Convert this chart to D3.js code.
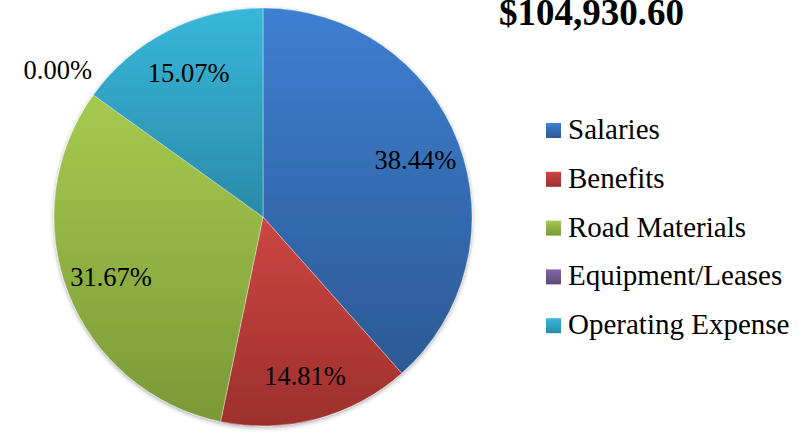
<!DOCTYPE html>
<html>
<head>
<meta charset="utf-8">
<script src="https://cdn.jsdelivr.net/npm/d3@7"></script>
<style>
  html, body { margin: 0; padding: 0; background: #fff; }
  svg { display: block; }
  svg text { font-family: "Liberation Serif", "Times New Roman", serif; }
</style>
</head>
<body>
<div id="chart"></div>
<script>
// chart data
const categories = ["Salaries", "Benefits", "Road Materials", "Equipment/Leases", "Operating Expense"];
const shares = [38.44, 14.81, 31.67, 0.00, 15.07];
const totalLabel = "$104,930.60";
const colorsTop = ["#3e7fd1", "#cc4642", "#a6ca4f", "#8467a8", "#38b7db"];
const colorsBottom = ["#2c5995", "#9d2f2c", "#7a9937", "#5c4878", "#2a8aa6"];

const width = 809, height = 433;
const cx = 263, cy = 217, radius = 209;

const svg = d3.select("#chart").append("svg")
    .attr("width", width)
    .attr("height", height);

const defs = svg.append("defs");

// soft shadow round the pie
const shadow = defs.append("filter")
    .attr("id", "shadow")
    .attr("x", "-10%").attr("y", "-10%")
    .attr("width", "120%").attr("height", "120%");
shadow.append("feDropShadow")
    .attr("dx", 0).attr("dy", 1.5)
    .attr("stdDeviation", 2.2)
    .attr("flood-color", "#000")
    .attr("flood-opacity", 0.35);

// vertical gradient for each slice
categories.forEach((c, i) => {
    const g = defs.append("linearGradient")
        .attr("id", "grad" + i)
        .attr("x1", 0).attr("y1", 0)
        .attr("x2", 0).attr("y2", 1);
    g.append("stop").attr("offset", "0%").attr("stop-color", colorsTop[i]);
    g.append("stop").attr("offset", "100%").attr("stop-color", colorsBottom[i]);
});

const pie = d3.pie().sort(null).value(d => d);
const arcs = pie(shares);

const arc = d3.arc().innerRadius(0).outerRadius(radius);
const labelArc = d3.arc().innerRadius(radius * 0.78).outerRadius(radius * 0.78);
const outerLabelArc = d3.arc().innerRadius(radius * 1.21).outerRadius(radius * 1.21);

const pieG = svg.append("g")
    .attr("transform", `translate(${cx},${cy})`);

pieG.append("g")
    .attr("filter", "url(#shadow)")
    .selectAll("path")
    .data(arcs)
    .enter()
    .append("path")
    .attr("d", arc)
    .attr("fill", (d, i) => `url(#grad${i})`)
    .attr("stroke", "rgba(255,255,255,0.45)")
    .attr("stroke-width", d => d.value > 0 ? 0.8 : 0);

// percentage labels
pieG.selectAll(".pct")
    .data(arcs)
    .enter()
    .append("text")
    .attr("class", "pct")
    .attr("transform", d => {
        const p = d.value > 0 ? labelArc.centroid(d) : outerLabelArc.centroid(d);
        return `translate(${p[0]},${p[1]})`;
    })
    .attr("text-anchor", "middle")
    .attr("dy", "0.38em")
    .style("font-size", "26.5px")
    .attr("fill", "#000")
    .text(d => d.value.toFixed(2) + "%");

// total at the top right
svg.append("text")
    .attr("x", 499)
    .attr("y", 25)
    .style("font-size", "37px")
    .style("font-weight", "bold")
    .attr("fill", "#000")
    .text(totalLabel);

// legend
const legend = svg.append("g")
    .attr("transform", "translate(546, 139)");

categories.forEach((c, i) => {
    const row = legend.append("g")
        .attr("transform", `translate(0, ${i * 48.8})`);
    row.append("rect")
        .attr("x", 0)
        .attr("y", -16)
        .attr("width", 15)
        .attr("height", 15)
        .attr("fill", `url(#grad${i})`);
    row.append("text")
        .attr("x", 22)
        .attr("y", 0)
        .style("font-size", "29px")
        .attr("fill", "#000")
        .text(c);
});
</script>
</body>
</html>
